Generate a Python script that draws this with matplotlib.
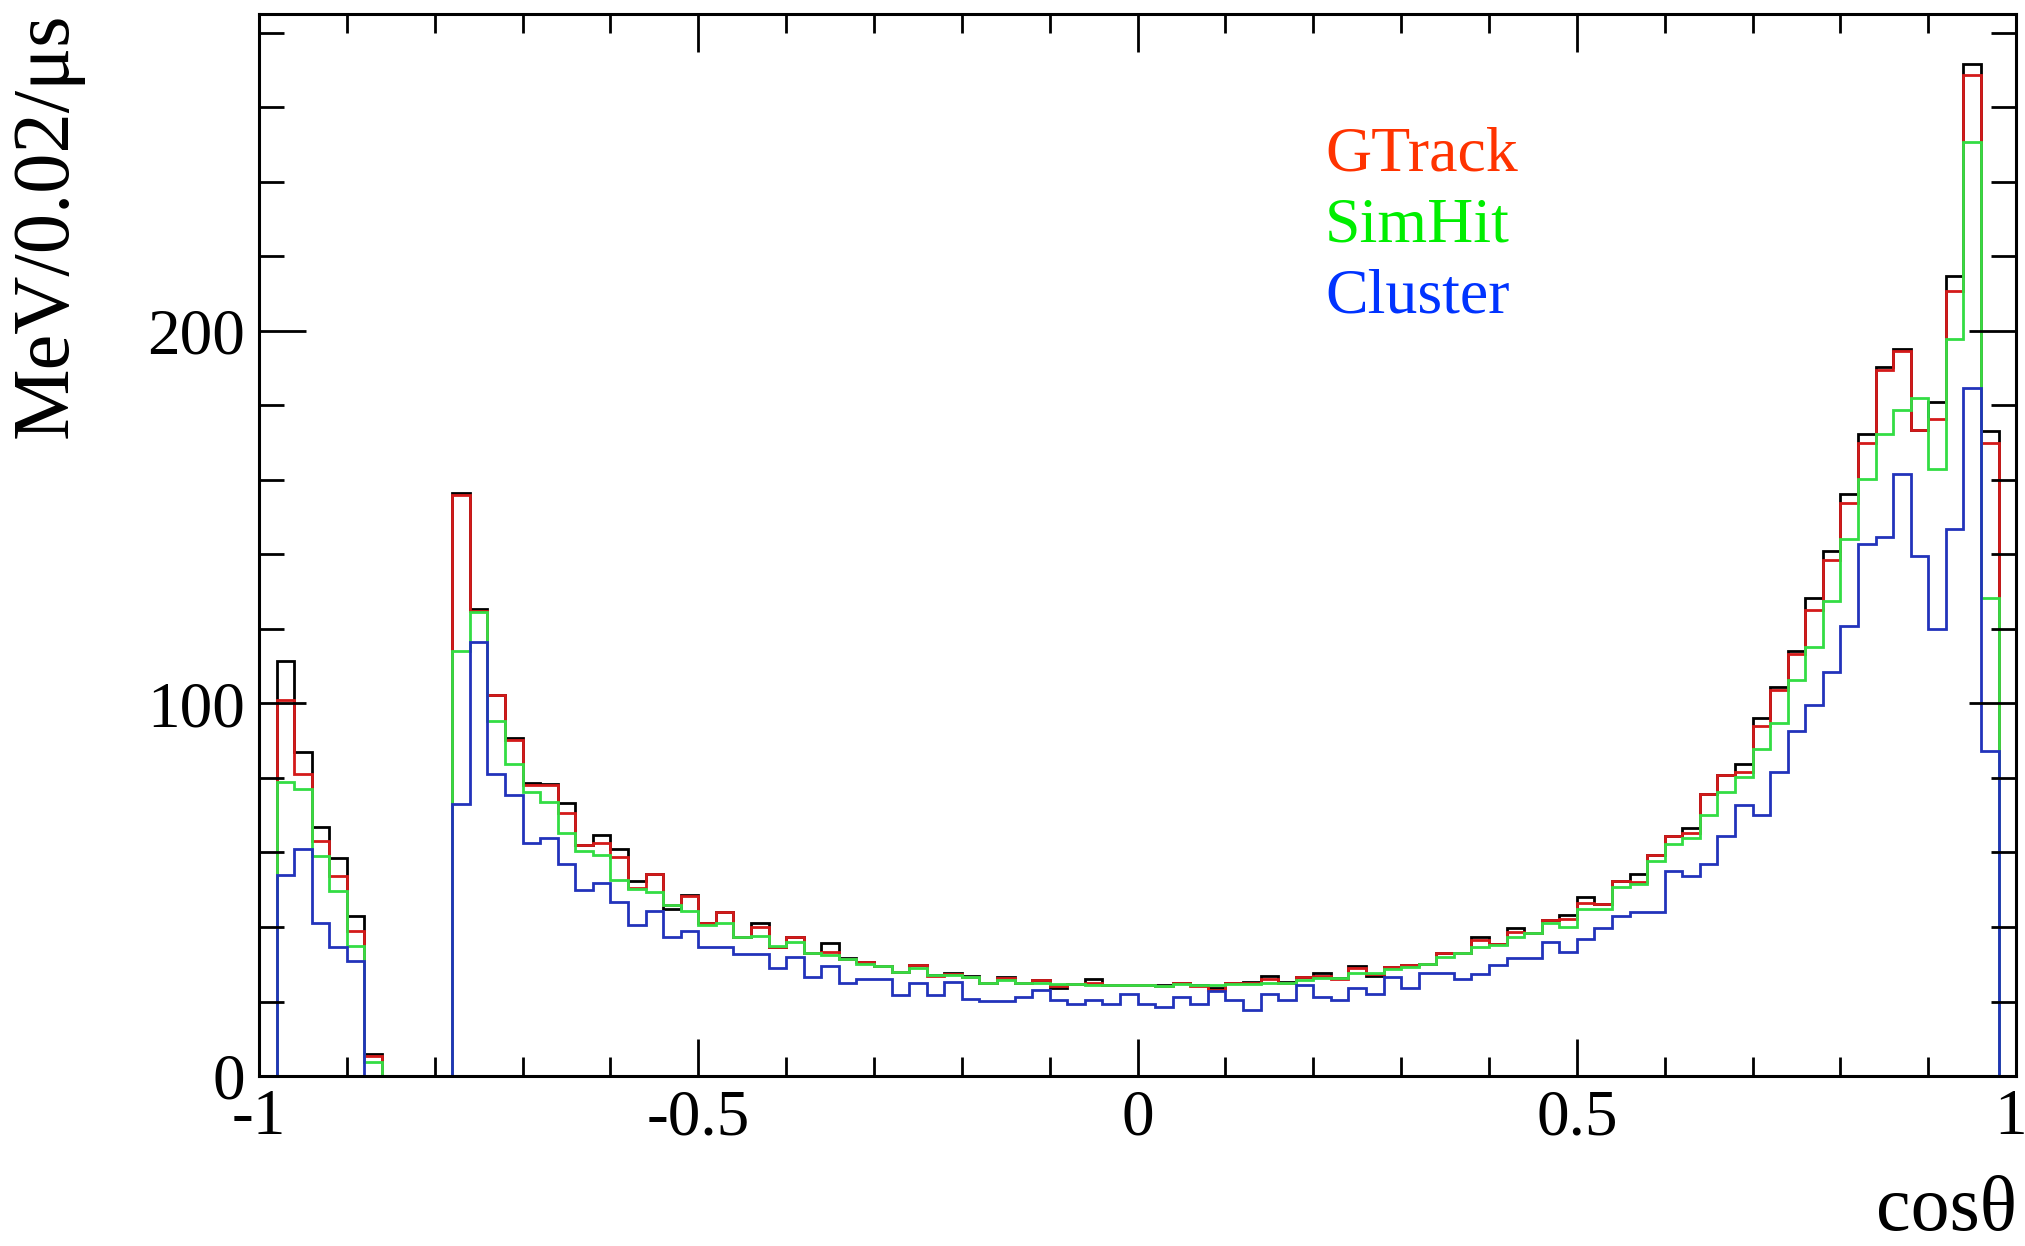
import numpy as np
import matplotlib
matplotlib.use("Agg")
import matplotlib.pyplot as plt
from matplotlib.ticker import MultipleLocator, FixedLocator, FixedFormatter
from matplotlib.transforms import ScaledTranslation

plt.rcParams['font.family'] = ['Liberation Serif', 'DejaVu Serif']
plt.rcParams['axes.unicode_minus'] = False

# 100 bins of width 0.02 over cos(theta) in [-1, 1]
x_min, x_max, n_bins = -1.0, 1.0, 100

total = [
    0, 111.5, 87, 66.8, 58.6, 43, 6, 0, 0, 0,
    0, 156.5, 125.2, 102.3, 90.7, 78.7, 78.5, 73.2, 62, 64.7,
    60.9, 52.4, 54.3, 44.7, 48.5, 41.1, 44.1, 37.3, 41.2, 34.6,
    37.4, 32.9, 35.8, 31.6, 30.7, 29.5, 28, 29.8, 27, 27.7,
    26.8, 25.1, 26.5, 25.1, 25.8, 23.5, 24.7, 26, 24.4, 24.5,
    24.3, 24.4, 25.1, 24.3, 23.5, 25.1, 25.3, 26.8, 25.2, 26.7,
    27.7, 26.2, 29.4, 26.8, 29.3, 29.8, 30.2, 33.1, 33, 37.3,
    35.5, 39.6, 38.5, 42, 43.2, 48.1, 46.2, 52.4, 54.2, 59.3,
    64.5, 66.5, 75.7, 80.9, 83.7, 96, 104.3, 114.1, 128.3, 141,
    156.1, 172.3, 190.3, 195, 173.3, 181, 214.6, 271.7, 173, 0,
]

gtrack = [
    0, 101, 81, 63, 53.6, 39, 5.5, 0, 0, 0,
    0, 156, 124.7, 102.3, 90.1, 78.2, 78.2, 70.7, 62, 62.5,
    58.7, 50.4, 54.3, 45.8, 48.3, 41, 43.9, 37.3, 40, 34.6,
    37.2, 32.9, 33.4, 31.5, 30.6, 29.4, 28, 29.7, 26.8, 27.3,
    26.6, 25.1, 26.4, 24.9, 25.8, 24.2, 24.7, 24.9, 24.4, 24.5,
    24.3, 24.2, 25.1, 24.1, 23.2, 25.0, 24.9, 26, 25.1, 26.5,
    26.8, 26.1, 28.9, 27.3, 29.3, 29.7, 30.1, 33, 32.9, 36.4,
    35.4, 38.6, 38.4, 41.9, 42.1, 46.5, 46.1, 52.3, 52.1, 59.2,
    64.4, 65.2, 75.6, 80.8, 81.6, 94, 103.6, 113.2, 125.1, 138.5,
    153.9, 169.8, 189.5, 194.5, 173.4, 176.3, 210.6, 268.5, 170, 0,
]

simhit = [
    0, 79, 77, 59, 49.7, 35, 3.8, 0, 0, 0,
    0, 114, 124.5, 95.2, 83.6, 76.2, 73.5, 65.2, 60.5, 59.2,
    52.6, 50.2, 49.3, 45.8, 44.4, 40.6, 41.1, 37.3, 37.5, 35,
    36, 32.9, 32.5, 31.3, 30.2, 29.4, 28, 28.9, 27.1, 27.1,
    26.7, 25, 25.8, 25, 24.9, 24.7, 24.6, 24.5, 24.4, 24.4,
    24.4, 24.2, 24.6, 24.4, 24.5, 24.8, 24.7, 25, 25.1, 25.8,
    26.4, 26.2, 27.7, 27.7, 28.8, 29.2, 30.1, 32, 32.9, 34.7,
    35.2, 37.2, 38.3, 41.1, 40.1, 44.7, 44.8, 50.8, 51.4, 57.6,
    62.4, 63.8, 70, 76.1, 80.2, 87.8, 94.7, 106.3, 115.2, 127.6,
    144, 160.3, 172.4, 178.7, 182, 162.8, 197.8, 250.6, 128.3, 0,
]

cluster = [
    0, 54, 61, 41, 34.6, 30.8, 0, 0, 0, 0,
    0, 73, 116.4, 81.1, 75.3, 62.5, 64, 56.8, 49.9, 51.8,
    46.6, 40.4, 44.4, 37.3, 38.9, 34.5, 34.5, 32.7, 32.7, 29,
    31.9, 26.7, 29.4, 25, 26, 26, 21.7, 24.9, 21.7, 25.3,
    20.8, 20.2, 20.2, 21.1, 23.1, 20.3, 19.3, 20.3, 19.3, 22.1,
    19.3, 18.6, 21.1, 19.3, 22.7, 20.4, 17.7, 22.1, 20.4, 24.5,
    21.2, 20.4, 23.5, 21.9, 26.7, 23.5, 27.6, 27.6, 26, 27.4,
    29.8, 31.6, 31.6, 36.1, 33.3, 36.8, 39.7, 43, 43.9, 44,
    54.9, 53.8, 56.9, 64.5, 72.7, 70, 81.6, 92.6, 99.5, 108.4,
    120.7, 142.9, 144.7, 161.6, 139.6, 120, 146.8, 184.5, 87.1, 0,
]

legend_labels = ["GTrack", "SimHit", "Cluster"]
x_ticks = [-1, -0.5, 0, 0.5, 1]
x_tick_labels = ["-1", "-0.5", "0", "0.5", "1"]
y_ticks = [0, 100, 200]
y_tick_labels = ["0", "100", "200"]

edges = np.linspace(x_min, x_max, n_bins + 1)

fig = plt.figure(figsize=(20.25, 12.46), dpi=100)
ax = fig.add_axes([0.1279, 0.1364, 0.8677, 0.8524])

lw = 2.0
ax.stairs(total, edges, baseline=0, color="#000000", lw=lw)
ax.stairs(gtrack, edges, baseline=0, color="#d41a1a", lw=lw)
ax.stairs(simhit, edges, baseline=0, color="#33dd44", lw=lw)
ax.stairs(cluster, edges, baseline=0, color="#2233bb", lw=lw)

ax.set_xlim(x_min, x_max)
ax.set_ylim(0, 285)

ax.xaxis.set_major_locator(FixedLocator(x_ticks))
ax.xaxis.set_major_formatter(FixedFormatter(x_tick_labels))
ax.xaxis.set_minor_locator(MultipleLocator(0.1))
ax.yaxis.set_major_locator(FixedLocator(y_ticks))
ax.yaxis.set_major_formatter(FixedFormatter(y_tick_labels))
ax.yaxis.set_minor_locator(MultipleLocator(20))

for s in ax.spines.values():
    s.set_linewidth(2.2)
    s.set_color("black")

ax.tick_params(axis='x', which='major', direction='in', length=27, width=2.0,
               top=True, bottom=True, labelsize=47, pad=9)
ax.tick_params(axis='x', which='minor', direction='in', length=14, width=2.0,
               top=True, bottom=True)
ax.tick_params(axis='y', which='major', direction='in', length=34, width=2.0,
               left=True, right=True, labelsize=47, pad=10)
ax.tick_params(axis='y', which='minor', direction='in', length=18, width=2.0,
               left=True, right=True)

# keep the last x tick label inside the canvas
fig.canvas.draw()
last_lbl = ax.get_xticklabels()[-1]
last_lbl.set_transform(last_lbl.get_transform() +
                       ScaledTranslation(-6 / 100, 0, fig.dpi_scale_trans))

fig.text(0.0232, 0.9896, "MeV/0.02/\u03bcs", rotation=90, ha='center', va='top',
         fontsize=58)
fig.text(0.996, 0.0128, "cos\u03b8", ha='right', va='baseline', fontsize=56)

legend_colors = ["#ff3300", "#00ee00", "#0033ff"]
legend_y = [0.8628, 0.806, 0.7488]
for lab, col, yy in zip(legend_labels, legend_colors, legend_y):
    fig.text(0.6543, yy, lab, color=col, ha='left', va='baseline', fontsize=46)

fig.savefig("out.png", dpi=100)
